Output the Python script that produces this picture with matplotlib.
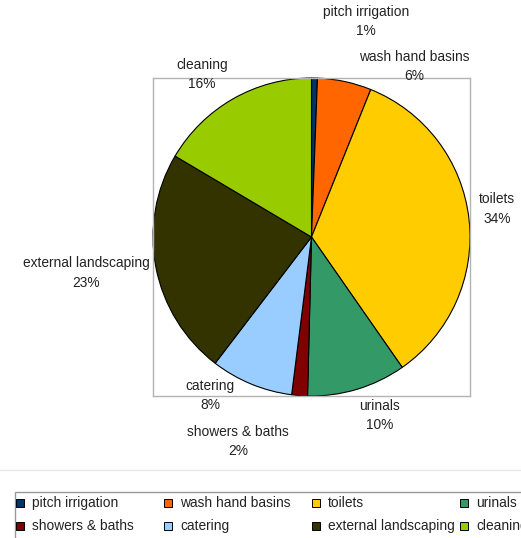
import matplotlib.pyplot as plt
from matplotlib.patches import Rectangle
from matplotlib.lines import Line2D

plt.rcParams['font.family'] = ['Liberation Sans', 'DejaVu Sans']

categories = ['pitch irrigation', 'wash hand basins', 'toilets', 'urinals',
              'showers & baths', 'catering', 'external landscaping', 'cleaning']
shares = [0.6, 5.5, 34.2, 10.1, 1.6, 8.4, 23.1, 16.5]
pct_labels = ['1%', '6%', '34%', '10%', '2%', '8%', '23%', '16%']
colors = ['#003366', '#ff6600', '#ffcc00', '#339966',
          '#800000', '#99ccff', '#333300', '#99cc00']

# where the data labels sit (pie radius = 1)
label_pos = [(0.344, 1.356), (0.647, 1.073), (1.17, 0.177), (0.432, -1.123),
             (-0.464, -1.287), (-0.64, -0.997), (-1.423, -0.227), (-0.691, 1.022)]

W, H = 521, 538
fig = plt.figure(figsize=(W / 100, H / 100), dpi=100)
ax = fig.add_axes([153 / W, 1 - 396 / H, 317 / W, 318 / H])

ax.pie(shares, colors=colors, startangle=90, counterclock=False, radius=1,
       wedgeprops=dict(edgecolor='black', linewidth=0.8))
ax.set_xlim(-1, 1)
ax.set_ylim(-1, 1)
ax.set_aspect('auto')
ax.set_frame_on(True)
for s in ax.spines.values():
    s.set_visible(True)
    s.set_color('#b3b3b3')
    s.set_linewidth(1)
ax.set_xticks([])
ax.set_yticks([])

for name, pct, (x, y) in zip(categories, pct_labels, label_pos):
    ax.text(x, y, name + '\n' + pct, ha='center', va='center', fontsize=9.9,
            color='#222222', linespacing=1.5, clip_on=False)

# separator line above the legend
fig.add_artist(Line2D([0, 1], [1 - 470 / H, 1 - 470 / H], color='#e6e6e6',
                      linewidth=1, transform=fig.transFigure))

# legend, laid out as a 4-column table, running off the right/bottom edge
fig.add_artist(Rectangle((15 / W, -0.05), 1.0, (1 - 492 / H) + 0.05,
                         transform=fig.transFigure, facecolor='white',
                         edgecolor='#999999', linewidth=1))
for i, (name, c) in enumerate(zip(categories, colors)):
    col, row = i % 4, i // 4
    x0 = 20 + col * 148
    y0 = 503 + row * 23
    fig.add_artist(Rectangle(((x0 - 4) / W, 1 - (y0 + 4) / H), 8 / W, 8 / H,
                             transform=fig.transFigure, facecolor=c,
                             edgecolor='black', linewidth=0.7))
    fig.text((x0 + 12) / W, 1 - y0 / H, name, ha='left', va='center',
             fontsize=9.9, color='#222222')

fig.savefig('out.png', dpi=100)
